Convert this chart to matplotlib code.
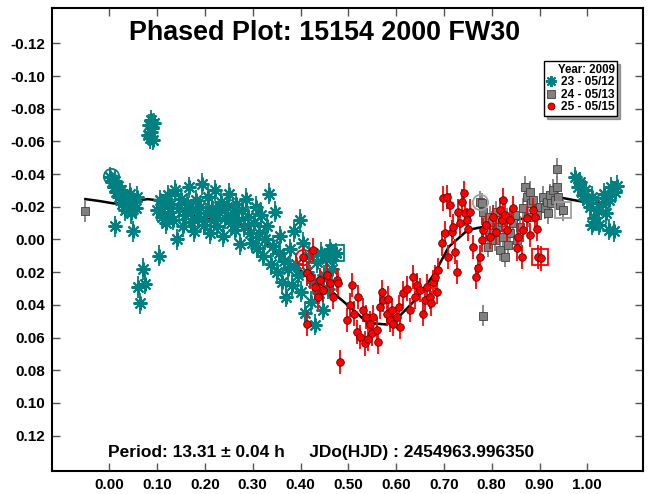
import matplotlib
matplotlib.use("Agg")
import matplotlib.pyplot as plt
from matplotlib.lines import Line2D

plt.rcParams['font.family'] = ['Liberation Sans', 'DejaVu Sans']
plt.rcParams['font.weight'] = 'bold'

# session 23 - 05/12 (teal)
s23_phase = [0.002, 0.006, 0.010, 0.012, 0.015, 0.018, 0.020, 0.024, 0.026, 0.030,
             0.033, 0.036, 0.040, 0.043, 0.046, 0.050, 0.012, 0.050, 0.055, 0.058,
             0.060, 0.064, 0.071, 0.075, 0.104,
             0.081, 0.083, 0.085, 0.087, 0.088, 0.090, 0.092, 0.094,
             0.100, 0.105, 0.110, 0.114, 0.118, 0.122, 0.126, 0.130, 0.134, 0.138,
             0.141, 0.145, 0.150, 0.154, 0.158, 0.162, 0.166, 0.170, 0.174, 0.178,
             0.182, 0.186, 0.190, 0.194, 0.198, 0.202, 0.206, 0.210, 0.214, 0.218,
             0.222, 0.226, 0.230, 0.234, 0.238, 0.242, 0.246, 0.250, 0.254, 0.258,
             0.262, 0.266, 0.270, 0.274, 0.278, 0.282, 0.286, 0.290, 0.294, 0.298,
             0.302, 0.306, 0.310, 0.314, 0.318, 0.322, 0.326, 0.330, 0.334, 0.338,
             0.342, 0.346, 0.350, 0.354, 0.358, 0.362, 0.366, 0.370, 0.374, 0.378,
             0.382, 0.386, 0.390, 0.394, 0.398, 0.402, 0.406, 0.410, 0.414, 0.418,
             0.422, 0.426, 0.430, 0.434, 0.438, 0.442, 0.446, 0.450, 0.454, 0.458,
             0.462, 0.466, 0.470, 0.474,
             0.975, 0.980, 0.985, 0.990, 0.995, 1.000, 1.005, 1.010, 1.015, 1.020,
             1.025, 1.030, 1.035, 1.040, 1.045, 1.050, 1.055, 1.058, 1.062, 1.010, 1.045]
s23_mag = [-0.038, -0.035, -0.032, -0.036, -0.029, -0.033, -0.026, -0.030, -0.022, -0.027,
           -0.018, -0.024, -0.021, -0.028, -0.016, -0.023, -0.008, -0.005, -0.019, -0.026,
           0.029, 0.039, 0.018, 0.027, 0.010,
           -0.064, -0.070, -0.062, -0.073, -0.066, -0.068, -0.061, -0.071,
           -0.018, -0.024, -0.014, -0.021, -0.010, -0.027, -0.017, -0.022, -0.012, -0.030,
           0.000, -0.019, -0.025, -0.008, -0.015, -0.022, -0.032, -0.011, -0.018, -0.005,
           -0.024, -0.014, -0.020, -0.034, -0.009, -0.016, -0.026, -0.004, -0.019, -0.012,
           -0.030, -0.008, -0.017, -0.023, -0.002, -0.013, -0.020, -0.028, -0.010, -0.016,
           -0.006, -0.022, -0.012, 0.003, -0.018, -0.008, -0.025, -0.014, -0.004, 0.002,
           -0.010, -0.020, 0.005, -0.004, -0.015, 0.010, 0.000, -0.008, -0.028, 0.015,
           0.004, -0.017, 0.020, 0.008, -0.002, 0.026, 0.013, 0.035, 0.018, 0.006,
           0.028, -0.005, 0.015, 0.022, -0.012, 0.032, 0.002, 0.045, 0.020, 0.010,
           0.038, 0.026, 0.052, 0.014, 0.033, 0.008, 0.043, 0.022, 0.012, 0.030,
           0.006, 0.018, 0.010, 0.0085,
           -0.038, -0.032, -0.035, -0.027, -0.030, -0.024, -0.020, -0.026, -0.013, -0.018,
           -0.009, -0.022, -0.028, -0.016, -0.024, -0.032, -0.005, -0.029, -0.033, -0.009, -0.006]
s23_err = 0.0065

# session 24 - 05/13 (grey)
s24_phase = [-0.051, 0.775, 0.779, 0.782, 0.786, 0.789, 0.793, 0.796, 0.800, 0.803, 0.807,
             0.810, 0.814, 0.817, 0.821, 0.824, 0.828, 0.831, 0.835, 0.838, 0.845,
             0.849, 0.852, 0.859, 0.866, 0.869, 0.873, 0.876, 0.880, 0.883, 0.887,
             0.894, 0.901, 0.908, 0.911, 0.915, 0.918, 0.922, 0.925, 0.929, 0.932,
             0.936, 0.939, 0.943, 0.950, 0.936, 0.781]
s24_mag = [-0.0174, -0.023, -0.0221, -0.0170, -0.0119, -0.0067, 0.0045, -0.0139, -0.0108, -0.0037, 0.0004,
           -0.0170, -0.0078, 0.0065, -0.0108, -0.0017, 0.0106, -0.0129, 0.0034, -0.0037, -0.0098,
           -0.0149, 0.0004, -0.0078, -0.0190, -0.0323, -0.0261, -0.0139, -0.0292, -0.0221, -0.0241,
           -0.0149, -0.0200, -0.0261, -0.0190, -0.0231, -0.0159, -0.0272, -0.0221, -0.0302, -0.0241,
           -0.0323, -0.0261, -0.0210, -0.0180, -0.0431, 0.0467]
s24_err = 0.0065

# session 25 - 05/15 (red)
s25_phase = [0.406, 0.413, 0.420, 0.427, 0.430, 0.437, 0.441, 0.448, 0.455, 0.462,
             0.469, 0.476, 0.479, 0.413, 0.483, 0.497, 0.504, 0.507, 0.511, 0.518,
             0.521, 0.524, 0.531, 0.535, 0.538, 0.542, 0.545, 0.549, 0.552, 0.559,
             0.563, 0.566, 0.570, 0.573, 0.580, 0.584, 0.587, 0.591, 0.594, 0.601,
             0.605, 0.608, 0.615, 0.622, 0.629, 0.636, 0.639, 0.643, 0.650, 0.657,
             0.660, 0.664, 0.671, 0.674, 0.678, 0.681, 0.685, 0.688, 0.695, 0.699,
             0.702, 0.706, 0.709, 0.713, 0.716, 0.720, 0.723, 0.727, 0.730, 0.734,
             0.737, 0.741, 0.744, 0.748, 0.751, 0.755, 0.761, 0.768, 0.772, 0.775,
             0.779, 0.782, 0.789, 0.796, 0.803, 0.810, 0.817, 0.821, 0.824, 0.828,
             0.831, 0.838, 0.845, 0.852, 0.856, 0.863, 0.866, 0.873, 0.880, 0.887,
             0.890, 0.895, 0.897, 0.904]
s25_mag = [0.0106, 0.0208, 0.0228, 0.0065, 0.0289, 0.0351, 0.0249, 0.0310, 0.0218, 0.0269,
           0.0351, 0.0249, 0.0269, 0.0514, 0.0748, 0.0493, 0.0402, 0.0279, 0.0453, 0.0565,
           0.0351, 0.0595, 0.0432, 0.0636, 0.0473, 0.0606, 0.0514, 0.0575, 0.0473, 0.0555,
           0.0626, 0.0412, 0.0320, 0.0371, 0.0453, 0.0361, 0.0493, 0.0432, 0.0514, 0.0473,
           0.0412, 0.0534, 0.0330, 0.0300, 0.0432, 0.0228, 0.0351, 0.0279, 0.0310, 0.0453,
           0.0371, 0.0289, 0.0351, 0.0391, 0.0259, 0.0228, 0.0320, 0.0187, 0.0024, -0.0251,
           -0.0037, -0.0261, 0.0106, -0.0210, -0.0047, -0.0078, 0.0075, 0.0198, -0.0170, -0.0098,
           -0.0231, -0.0282, -0.0159, -0.0119, -0.0067, -0.0170, 0.0045, 0.0228, 0.0177, 0.0106,
           0.0004, -0.0057, -0.0088, -0.0017, -0.0139, -0.0047, -0.0180, -0.0119, -0.0241, -0.0149,
           -0.0057, -0.0119, -0.0190, 0.0055, -0.0017, 0.0106, -0.0057, -0.0129, -0.0027, -0.0180,
           -0.0139, -0.0067, 0.0106, 0.0116]
s25_err = 0.0075

# first / last points of each session (hollow circle / hollow square)
first_pts = {'s23': (0.003, -0.039), 's24': (0.776, -0.023), 's25': (0.405, 0.011)}
last_pts = {'s23': (0.474, 0.0085), 's24': (0.950, -0.018), 's25': (0.900, 0.011)}

# Fourier fit curve
fit_phase = [-0.05, -0.02, 0.01, 0.04, 0.08, 0.10, 0.14, 0.19, 0.25, 0.29, 0.35, 0.40,
             0.47, 0.51, 0.54, 0.58, 0.61, 0.64, 0.68, 0.71, 0.75, 0.78, 0.83, 0.88,
             0.92, 0.95, 1.01, 1.05]
fit_mag = [-0.0247, -0.0235, -0.022, -0.023, -0.0247, -0.024, -0.019, -0.013, -0.012, -0.0076,
           0.0085, 0.019, 0.033, 0.043, 0.051, 0.052, 0.046, 0.037, 0.021, 0.0045, -0.0058,
           -0.0076, -0.0107, -0.0137, -0.020, -0.0253, -0.022, -0.0228]

x_ticks = [0.0, 0.1, 0.2, 0.3, 0.4, 0.5, 0.6, 0.7, 0.8, 0.9, 1.0]
y_ticks = [-0.12, -0.10, -0.08, -0.06, -0.04, -0.02, 0.0, 0.02, 0.04, 0.06, 0.08, 0.10, 0.12]

teal = '#008080'
grey = '#808080'
red = '#ff0000'

fig = plt.figure(figsize=(6.48, 4.94), dpi=100)
ax = fig.add_axes([0.0798, 0.0466, 0.9125, 0.9372])

ax.plot(fit_phase, fit_mag, color='black', lw=1.8, zorder=1)

ax.errorbar(s23_phase, s23_mag, yerr=s23_err, fmt='none', ecolor=teal, elinewidth=1.3, zorder=2)
ax.plot(s23_phase, s23_mag, ls='none', marker=(8, 2, 0), ms=10, mec=teal, mew=1.5, color=teal, zorder=2)

ax.errorbar(s24_phase, s24_mag, yerr=s24_err, fmt='none', ecolor=grey, elinewidth=1.3, zorder=3)
ax.plot(s24_phase, s24_mag, ls='none', marker='s', ms=5.5, mfc=grey, mec='#404040', mew=0.6, zorder=3)

ax.errorbar(s25_phase, s25_mag, yerr=s25_err, fmt='none', ecolor=red, elinewidth=1.3, zorder=4)
ax.plot(s25_phase, s25_mag, ls='none', marker='o', ms=5.5, mfc=red, mec='#600000', mew=0.6, zorder=4)

hollow_col = {'s23': teal, 's24': '#a0a0a0', 's25': red}
for key in first_pts:
    ax.plot(*first_pts[key], marker='o', ms=11, mfc='none', mec=hollow_col[key], mew=1.3, zorder=5)
    ax.plot(*last_pts[key], marker='s', ms=11, mfc='none', mec=hollow_col[key], mew=1.3, zorder=5)

ax.set_xlim(-0.1205, 1.1165)
ax.set_ylim(0.1416, -0.1416)
ax.set_xticks(x_ticks)
ax.set_yticks(y_ticks)
ax.set_xticklabels(['%.2f' % v for v in x_ticks])
ax.set_yticklabels(['%.2f' % v for v in y_ticks])
ax.tick_params(axis='both', direction='in', length=6, width=1, color='#555555',
               labelsize=11, top=True, right=True)
ax.tick_params(axis='x', pad=5)
ax.tick_params(axis='y', pad=5)
for lab in ax.get_xticklabels() + ax.get_yticklabels():
    lab.set_fontweight('bold')
for sp in ax.spines.values():
    sp.set_linewidth(1.5)

ax.text(0.462, 0.947, 'Phased Plot: 15154 2000 FW30', transform=ax.transAxes,
        ha='center', va='center', fontsize=19.4, fontweight='bold')
ax.text(0.096, 0.039, 'Period: 13.31 \u00b1 0.04 h     JDo(HJD) : 2454963.996350',
        transform=ax.transAxes, ha='left', va='center', fontsize=12.5, fontweight='bold')

handles = [Line2D([], [], ls='none', marker=(8, 2, 0), ms=8, mec=teal, mew=1.4, color=teal),
           Line2D([], [], ls='none', marker='s', ms=6, mfc=grey, mec='#404040', mew=0.6),
           Line2D([], [], ls='none', marker='o', ms=5, mfc=red, mec='#600000', mew=0.6)]
leg = ax.legend(handles, ['23 - 05/12', '24 - 05/13', '25 - 05/15'], title='Year: 2009',
                loc='upper right', bbox_to_anchor=(0.956, 0.885), fancybox=False, shadow=True,
                framealpha=1, edgecolor='black', fontsize=8.6, title_fontsize=8.3,
                handlelength=0.8, handletextpad=0.4, labelspacing=0.05, borderpad=0.2,
                borderaxespad=0, alignment='right')
leg.get_frame().set_linewidth(1)
leg.get_title().set_fontweight('bold')
for t in leg.get_texts():
    t.set_fontweight('bold')

fig.savefig('out.png', dpi=100)
